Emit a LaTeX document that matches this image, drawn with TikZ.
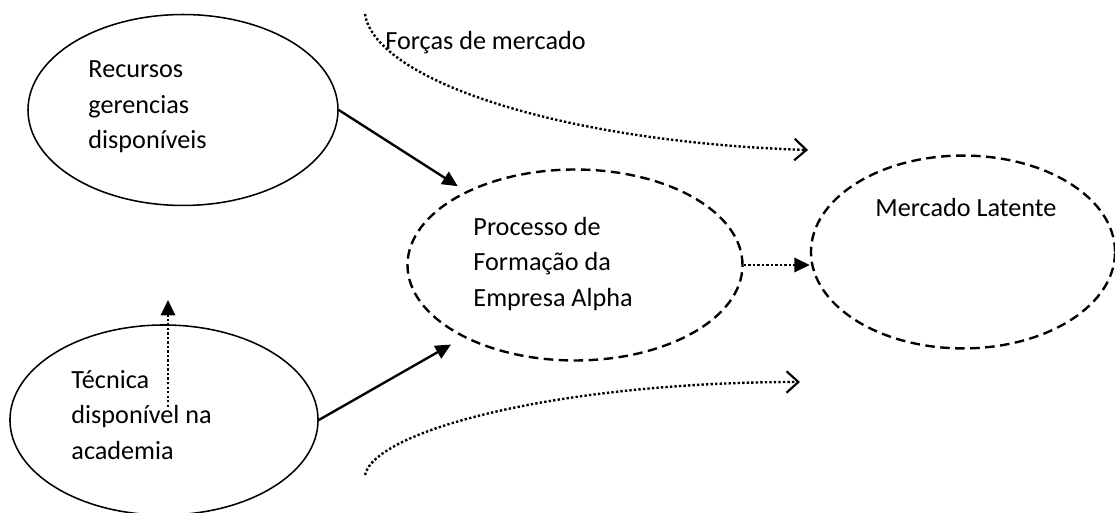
\documentclass[tikz,border=0pt]{standalone}
\usepackage{fontspec}
\setmainfont{Carlito}
\usetikzlibrary{arrows.meta}
\usetikzlibrary{shapes.geometric}

\begin{document}
\begin{tikzpicture}[x=0.42pt,y=-0.42pt,
  box/.style={ellipse, draw, line width=0.65pt, inner sep=0pt},
  latent/.style={box, line width=1pt, dash pattern=on 4pt off 2.3pt},
  txt/.style={anchor=west, align=left, inner sep=0pt, font=\fontsize{11}{15}\selectfont},
  dotline/.style={dash pattern=on 1pt off 0.9pt},
  flow/.style={line width=1pt, -{Triangle[length=6.5pt,width=6pt]}},
  force/.style={dotline, line width=1pt,
    -{Straight Barb[length=5pt,width=9pt,line width=0.9pt]}}]

  \useasboundingbox (0,0) rectangle (1115,513);

  \node[box, minimum width=130.2pt, minimum height=80.2pt] (recursos) at (183,110) {};
  \node[box, minimum width=129.4pt, minimum height=79.8pt] (tecnica) at (164,420) {};
  \node[latent, minimum width=140.7pt, minimum height=80.2pt] (processo) at (575,265) {};
  \node[latent, minimum width=127.7pt, minimum height=81pt] (mercado) at (963,252) {};

  \node[txt] (recursos-txt) at (88,107) {Recursos\\gerencias\\disponíveis};
  \node[txt] (tecnica-txt) at (71,415) {Técnica\\disponível na\\academia};
  \node[txt] (processo-txt) at (473,264) {Processo de\\Formação da\\Empresa Alpha};
  \node[txt] (mercado-txt) at (875,208) {Mercado Latente};
  \node[txt] (forcas-txt) at (385,43) {Forças de mercado};

  \draw[flow, shorten >=4pt] (recursos.east) -- (processo.146);
  \draw[flow, shorten >=6pt] (tecnica.east) -- (processo.213);
  \draw[flow, dotline] (processo.east) -- (processo.east -| mercado.west);

  \coordinate (rise-start) at (168,407);
  \coordinate (rise-end) at (168,300);
  \draw[flow, dotline] (rise-start) -- (rise-end);

  \coordinate (top-start) at (365,14);
  \coordinate (top-end) at (808,150);
  \draw[force] (top-start) .. controls (375,80) and (560,142) .. (top-end);
  \coordinate (low-start) at (365,475);
  \coordinate (low-end) at (800,382);
  \draw[force] (low-start) .. controls (375,430) and (560,382) .. (low-end);

\end{tikzpicture}
\end{document}
